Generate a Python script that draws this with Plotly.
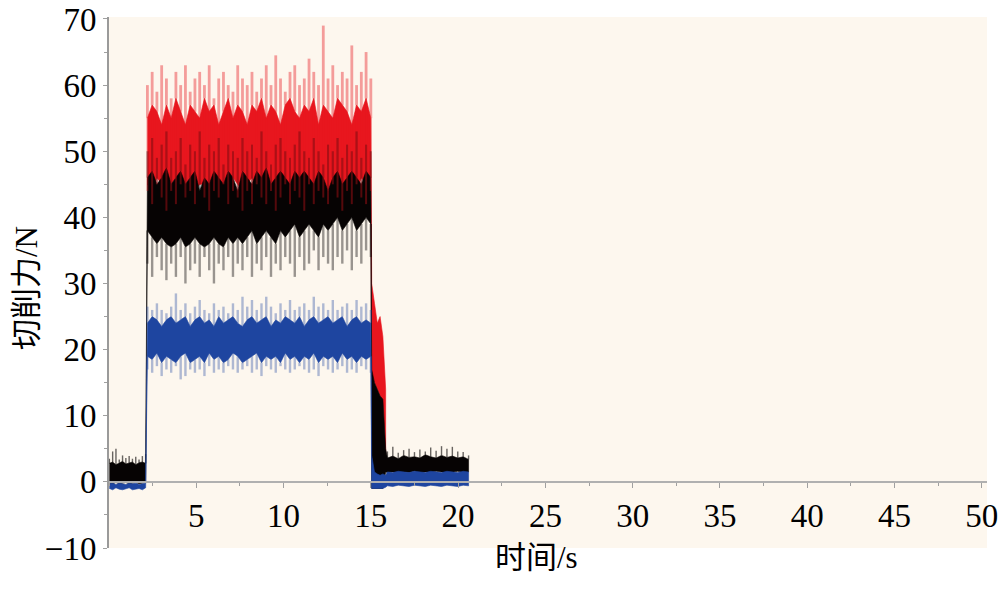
import numpy as np
import plotly.graph_objects as go

# ================= data =================
# --- idle before cut, t = 0 .. 2.1 s (12 samples)
black_pre_top = [2.8, 3.0, 2.6, 2.9, 3.1, 2.7, 2.8, 3.0, 2.6, 2.9, 3.0, 2.8]
black_pre_peak = [3.5, 4.6, 5.0, 3.4, 4.0, 3.6, 3.9, 3.5, 3.8, 3.4, 3.9, 4.2]
black_pre_bottom = [-0.2, -0.3, -0.1, -0.3, -0.2, -0.1, -0.3, -0.2, -0.1, -0.3, -0.2, -0.1]
blue_pre_top = [-0.3, -0.2, -0.4, -0.2, -0.3, -0.4, -0.2, -0.3, -0.2, -0.4, -0.3, -0.2]
blue_pre_bottom = [-1.0, -1.2, -0.9, -1.1, -1.2, -1.0, -0.9, -1.2, -1.1, -1.0, -1.2, -0.9]

# --- cutting, t = 2.2 .. 15.0 s (48 samples)
red_top = [55, 57, 56, 54, 57, 55, 58, 56, 54, 57, 56, 55, 58, 56, 57, 54, 56, 58, 55, 57,
           56, 54, 57, 56, 58, 55, 57, 56, 54, 57, 58, 56, 55, 57, 56, 58, 54, 57, 56, 55,
           58, 57, 56, 54, 57, 56, 58, 55]
red_peak = [60, 62, 59, 63, 61, 58, 62, 60, 63, 59, 61, 62, 60, 63, 58, 61, 62, 60, 59, 63,
            61, 60, 62, 59, 61, 63, 60, 64.5, 61, 59, 62, 63, 60, 61, 64, 62, 60, 69, 61, 63,
            60, 62, 61, 66, 60, 62, 65, 61]
red_bottom = [45, 44, 46, 45, 44, 45, 46, 44, 45, 46, 44, 45, 45, 44, 46, 45, 44, 45, 46, 45,
              44, 45, 46, 44, 45, 45, 44, 46, 45, 44, 45, 46, 44, 45, 45, 44, 46, 45, 44, 45,
              46, 44, 45, 45, 44, 46, 45, 44]
red_dip = [44, 42, 45, 43, 41, 44, 42, 45, 43, 44, 42, 45, 43, 41, 44, 43, 45, 42, 44, 43,
           41, 44, 42, 45, 43, 42, 44, 41, 43, 45, 42, 44, 43, 41, 45, 42, 44, 43, 42, 45,
           43, 41, 44, 42, 45, 43, 42, 44]

black_top = [46, 47, 45, 46, 47.5, 45, 46, 47, 45, 46, 47, 44, 46, 45, 47, 46, 45, 47, 46, 44,
             47, 46, 45, 47, 46, 47.5, 45, 46, 47, 46, 45, 47, 46, 47, 46, 45, 47, 46, 44, 46,
             47, 45, 46, 47, 46, 45, 47, 46]
black_peak = [50, 52, 49, 51, 53, 49, 50, 52, 48, 51, 50, 53, 49, 51, 50, 52, 48, 51, 50, 49,
              52, 50, 51, 49, 53, 50, 48, 51, 52, 50, 49, 51, 53, 50, 49, 52, 50, 48, 51, 50,
              52, 49, 51, 50, 53, 49, 51, 50]
black_bottom = [38, 37, 36, 37, 36, 35.5, 36, 37, 35.5, 36, 37, 36, 35.5, 36, 37, 36, 35.5, 37,
                36, 37, 36, 37, 38, 36, 37, 38, 37, 36, 38, 37, 38, 39, 37, 38, 39, 38, 37, 39,
                38, 39, 40, 38, 39, 40, 38, 39, 40, 39]
black_dip = [33, 31, 34, 32, 30.5, 33, 31, 34, 30, 32, 33, 31, 34, 32, 30, 33, 32, 34, 31, 33,
             32, 34, 31, 33, 32, 34, 31, 33, 32, 34, 33, 31, 34, 32, 33, 35, 32, 34, 33, 32,
             34, 33, 35, 32, 34, 33, 35, 34]

blue_top = [24, 25, 24.5, 23.5, 24.5, 25, 24, 24.5, 25, 23.5, 24.5, 25, 24, 24.5, 23.5, 25,
            24, 24.5, 25, 24, 23.5, 24.5, 25, 24, 24.5, 25, 23.5, 24.5, 24, 25, 24.5, 24,
            25, 23.5, 24.5, 25, 24, 24.5, 25, 24, 24.5, 25, 23.5, 24.5, 25, 24, 24.5, 24]
blue_peak = [26.5, 26, 27, 26, 25.5, 26.5, 28.5, 26, 27, 25.5, 26.5, 27.5, 26, 25.5, 27, 26,
             26.5, 25.5, 27, 26, 28, 26.5, 27.5, 26, 27, 28, 26.5, 25.5, 27, 26, 27.5, 26,
             26.5, 27, 26, 28, 26.5, 27, 26, 27.5, 26, 26.5, 27, 26, 27.5, 26.5, 27, 26]
blue_bottom = [19, 18.5, 19.5, 18, 19, 18.5, 18, 19, 19.5, 18, 18.5, 19, 18, 19.5, 18.5, 19,
               18, 18.5, 19.5, 19, 18, 18.5, 19, 19.5, 18, 19, 18.5, 19, 18, 19.5, 18.5, 19,
               18, 19, 18.5, 19.5, 18, 19, 18.5, 19, 18, 19.5, 18.5, 19, 18, 19, 18.5, 19]
blue_dip = [17, 16.5, 17.5, 16, 17, 16.5, 17.5, 15.5, 16, 17, 16.5, 17, 16, 17.5, 16.5, 17,
            16.5, 17.5, 17, 16.5, 17, 17.5, 16.5, 17, 16, 17.5, 17, 16.5, 17.5, 17, 16.5, 17,
            17.5, 17, 16.5, 17, 16, 17.5, 17, 16.5, 17, 17.5, 16.5, 17, 16.5, 17.5, 17, 16.5]

# --- tool exit, t = 15.05 .. 15.85 s (6 samples)
red_drop_top = [30, 27, 24, 25, 22, 14]
red_drop_bottom = [16, 15, 14, 13, 12, 4]
black_drop_top = [17, 15, 14, 13, 12.5, 5]
black_drop_bottom = [-1, -1, -1, -1, -1, 1.5]
blue_drop_top = [4, 1.5, 1.2, 1.0, 1.2, 1.0]
blue_drop_bottom = [-1, -1, -1, -1, -1, -0.8]

# --- idle after cut, t = 15.95 .. 20.6 s (16 samples)
black_post_top = [3.6, 3.9, 3.5, 4.0, 3.7, 3.8, 3.6, 4.1, 3.8, 3.6, 4.0, 3.7, 3.9, 3.6, 3.8, 3.4]
black_post_peak = [4.6, 5.3, 4.4, 4.8, 5.0, 4.5, 4.9, 4.6, 5.2, 4.7, 5.4, 5.0, 5.3, 4.6, 4.5, 4.0]
black_post_bottom = [1.4, 1.5, 1.3, 1.5, 1.4, 1.6, 1.3, 1.5, 1.4, 1.6, 1.5, 1.3, 1.5, 1.6, 1.4, 1.5]
blue_post_top = [1.5, 1.4, 1.6, 1.5, 1.4, 1.6, 1.5, 1.4, 1.6, 1.5, 1.4, 1.6, 1.5, 1.4, 1.6, 1.5]
blue_post_bottom = [-0.6, -0.7, -0.5, -0.6, -0.7, -0.5, -0.6, -0.7, -0.5, -0.6, -0.7, -0.5,
                    -0.6, -0.7, -0.5, -0.6]

x_ticks = [5, 10, 15, 20, 25, 30, 35, 40, 45, 50]
y_ticks = [-10, 0, 10, 20, 30, 40, 50, 60, 70]
y_ticktext = ["\u221210", "0", "10", "20", "30", "40", "50", "60", "70"]

# sample times of each segment
t_pre = list(np.linspace(0.02, 2.1, len(black_pre_top)))
t_main = list(np.linspace(2.2, 15.0, len(red_top)))
t_drop = list(np.linspace(15.05, 15.85, len(red_drop_top)))
t_post = list(np.linspace(15.95, 20.6, len(black_post_top)))

RED = "#E8161E"
BLACK = "#060303"
BLUE = "#1E45A0"

fig = go.Figure()


def band(t, top, bottom, color):
    fig.add_trace(go.Scatter(x=t + t[::-1], y=top + bottom[::-1], mode="lines",
                             fill="toself", fillcolor=color,
                             line=dict(color=color, width=0.6),
                             hoverinfo="skip", showlegend=False))


def spikes(t, base, tip, color, opacity, width=1.8):
    xs, ys = [], []
    for a, b, c in zip(t, base, tip):
        xs += [a, a, None]
        ys += [b, c, None]
    fig.add_trace(go.Scatter(x=xs, y=ys, mode="lines", opacity=opacity,
                             line=dict(color=color, width=width),
                             hoverinfo="skip", showlegend=False))


# red
spikes(t_main, red_top, red_peak, RED, 0.4, 2.8)
band(t_main + t_drop, red_top + red_drop_top, red_bottom + red_drop_bottom, RED)
# black
spikes(t_main, black_top, black_peak, BLACK, 0.4, 2.0)
spikes(t_pre + t_post, black_pre_top + black_post_top,
       black_pre_peak + black_post_peak, BLACK, 0.6, 1.4)
band(t_pre + t_main + t_drop + t_post,
     black_pre_top + black_top + black_drop_top + black_post_top,
     black_pre_bottom + black_bottom + black_drop_bottom + black_post_bottom, BLACK)
spikes(t_main, red_top, red_dip, RED, 0.35, 2.0)
spikes(t_main, black_bottom, black_dip, BLACK, 0.4, 2.4)
# blue
spikes(t_main, blue_top, blue_peak, BLUE, 0.35, 2.4)
spikes(t_main, blue_bottom, blue_dip, BLUE, 0.35, 2.4)
band(t_pre + t_main + t_drop + t_post,
     blue_pre_top + blue_top + blue_drop_top + blue_post_top,
     blue_pre_bottom + blue_bottom + blue_drop_bottom + blue_post_bottom, BLUE)

NUM_FONT = dict(family="Liberation Serif, Times New Roman, serif", size=33, color="#000")
TXT_FONT = dict(family="Liberation Serif, Noto Sans CJK SC, serif", size=31, color="#000")

fig.update_layout(
    width=1000, height=596,
    margin=dict(l=109, r=13, t=17, b=48),
    paper_bgcolor="#FFFFFF",
    plot_bgcolor="#FDF7EE",
    xaxis=dict(range=[0, 50.3], tickvals=x_ticks, ticks="outside", ticklen=5,
               tickcolor="#A0A0A0", showgrid=False, zeroline=False,
               showline=True, linecolor="#B0B0B0", linewidth=1.5,
               anchor="free", position=10 / 80.3, tickfont=NUM_FONT,
               ticklabeloverflow="allow", automargin=False,
               minor=dict(dtick=2.5, ticks="outside", ticklen=3, tickcolor="#A0A0A0")),
    yaxis=dict(range=[-10, 70.3], tickvals=y_ticks, ticktext=y_ticktext,
               ticks="outside", ticklen=4, tickcolor="#A0A0A0",
               showgrid=False, zeroline=False, showline=True,
               linecolor="#9A9A9A", linewidth=2, tickfont=NUM_FONT,
               ticklabeloverflow="allow", automargin=False,
               minor=dict(dtick=5, ticks="outside", ticklen=3, tickcolor="#A0A0A0")),
    annotations=[
        dict(text="时间/s", x=(536 - 109) / 878, y=(548 - 557) / 531,
             xref="paper", yref="paper", xanchor="center", yanchor="middle",
             showarrow=False, font=TXT_FONT),
        dict(text="切削力/N", x=(26 - 109) / 878, y=(548 - 288) / 531,
             xref="paper", yref="paper", xanchor="center", yanchor="middle",
             showarrow=False, textangle=-90, font=TXT_FONT),
    ],
)

fig.write_html("out.html", config={"displayModeBar": False},
               post_script="document.body.style.margin='0';")
